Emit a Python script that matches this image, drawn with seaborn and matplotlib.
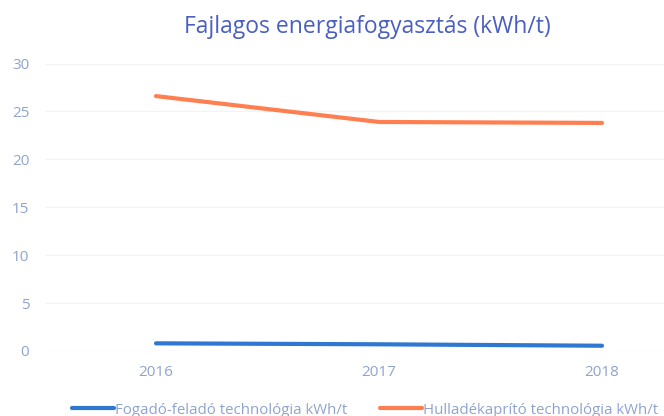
import matplotlib
matplotlib.use("Agg")
import matplotlib.pyplot as plt
import seaborn as sns
import pandas as pd
from matplotlib.lines import Line2D

years = [2016, 2017, 2018]
fogado = [0.8, 0.7, 0.55]
hulladek = [26.6, 23.9, 23.8]
series_names = ["Fogadó-feladó technológia kWh/t", "Hulladékaprító technológia kWh/t"]
colors = ["#2f78d2", "#ff7f50"]

df = pd.DataFrame({
    "year": years * 2,
    "value": fogado + hulladek,
    "series": [series_names[0]] * 3 + [series_names[1]] * 3,
})

sns.set_style("white")
plt.rcParams['font.family'] = ['Open Sans', 'DejaVu Sans']

fig = plt.figure(figsize=(6.64, 4.16), dpi=100)
ax = fig.add_axes([44.5/664, 65/416, (664-44.5)/664, 287.5/416])

sns.lineplot(data=df, x="year", y="value", hue="series", palette=colors,
             linewidth=3, ax=ax, legend=False)

ax.set_xlim(2015.5, 2018.278)
ax.set_ylim(0, 30)
ax.set_yticks([0, 5, 10, 15, 20, 25, 30])
ax.set_xticks(years)
ax.set_xticklabels([str(y) for y in years])
ax.set_xlabel("")
ax.set_ylabel("")
for s in ax.spines.values():
    s.set_visible(False)
ax.grid(axis="y", color="#f4f4f4", linewidth=1)
ax.tick_params(axis="both", length=0, labelsize=11, labelcolor="#8ea4cc")
ax.tick_params(axis="y", pad=11)
ax.tick_params(axis="x", pad=10)

fig.suptitle("Fajlagos energiafogyasztás (kWh/t)", x=0.553, y=0.965,
             fontsize=16.5, color="#4a5fc0")

handles = [Line2D([0], [0], color=c, linewidth=3) for c in colors]
fig.legend(handles, series_names, loc="center left", bbox_to_anchor=(0.088, 0.0144),
           ncol=2, frameon=False, fontsize=10.8, labelcolor="#8ea4cc",
           handlelength=2.8, handletextpad=0.05, columnspacing=2.2)

fig.savefig("out.png", dpi=100)
